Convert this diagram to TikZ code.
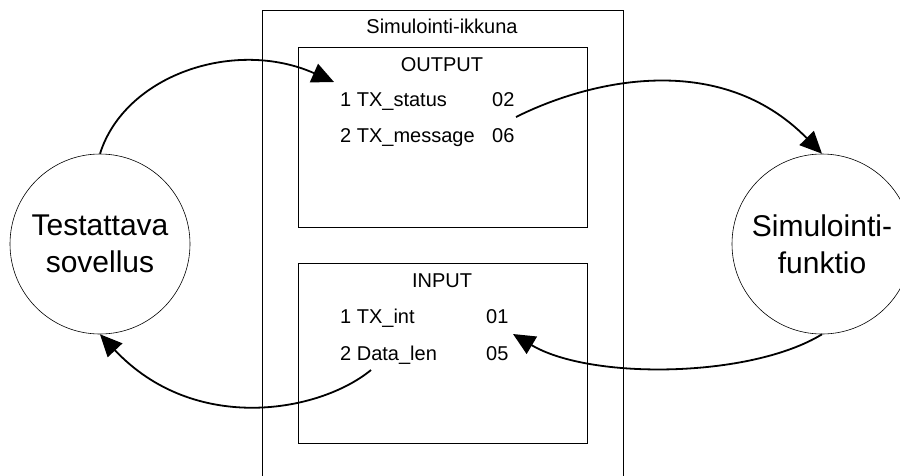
\documentclass[tikz,border=0pt]{standalone}
\usepackage{fontspec}
\setmainfont{Liberation Sans}
\usepackage{tikz}
\usetikzlibrary{
    arrows.meta,
    positioning
}
\tikzset{
    winbox/.style={
        draw,
        rectangle,
        anchor=north west,
        inner sep=0pt,
        line width=0.8pt
    },
    actor/.style={
        draw,
        circle,
        inner sep=0pt,
        minimum size=180pt,
        line width=0.6pt,
        align=center,
        font=\fontsize{30pt}{37pt}\selectfont
    },
    lab/.style={
        inner sep=0pt,
        font=\fontsize{20pt}{24pt}\selectfont
    },
    arr/.style={
        -{Triangle[length=22pt,width=20pt]},
        line width=1.8pt
    }
}

\begin{document}
\begin{tikzpicture}[
    x=1pt,
    y=-1pt,
    panel/.style={
        winbox,
        minimum width=289pt,
        minimum height=180pt
    }
]

\useasboundingbox (0,0) rectangle (900,475);

\node[winbox, minimum width=361pt, minimum height=475pt] (win) at (262,10) {};
\node[panel] (outp) at (298,47) {};
\node[panel] (inp) at (298,263) {};

\node[lab, anchor=base] (title) at (442,33) {Simulointi-ikkuna};
\node[lab, anchor=base] (outhd) at (442,71) {OUTPUT};
\node[lab, anchor=base west] (orow1) at (340,106) {1 TX\_status};
\node[lab, anchor=base west] (orow2) at (340,142) {2 TX\_message};
\node[lab, anchor=base west] (oval1) at (492,106) {02};
\node[lab, anchor=base west] (oval2) at (492,142) {06};

\node[lab, anchor=base] (inhd) at (442,287) {INPUT};
\node[lab, anchor=base west] (irow1) at (340,323) {1 TX\_int};
\node[lab, anchor=base west] (irow2) at (340,360) {2 Data\_len};
\node[lab, anchor=base west] (ival1) at (486,323) {01};
\node[lab, anchor=base west] (ival2) at (486,360) {05};

\node[actor] (app) at (100,244) {Testattava\\sovellus};
\node[actor] (sim) at (822,244) {Simulointi-\\funktio};

\coordinate (otip) at (334,82);
\coordinate (ostart) at (516,117);
\coordinate (itip) at (513,334);
\coordinate (istart) at (371,370);

\draw[arr] (app.north) .. controls +(25,-79) and +(-99,-44) .. (otip);
\draw[arr] (ostart) .. controls +(74,-37) and +(-102,-104) .. (sim.north);
\draw[arr] (sim.south) .. controls +(-72,44) and +(77,46) .. (itip);
\draw[arr] (istart) .. controls +(-51,42) and +(95,101) .. (app.south);

\end{tikzpicture}
\end{document}
